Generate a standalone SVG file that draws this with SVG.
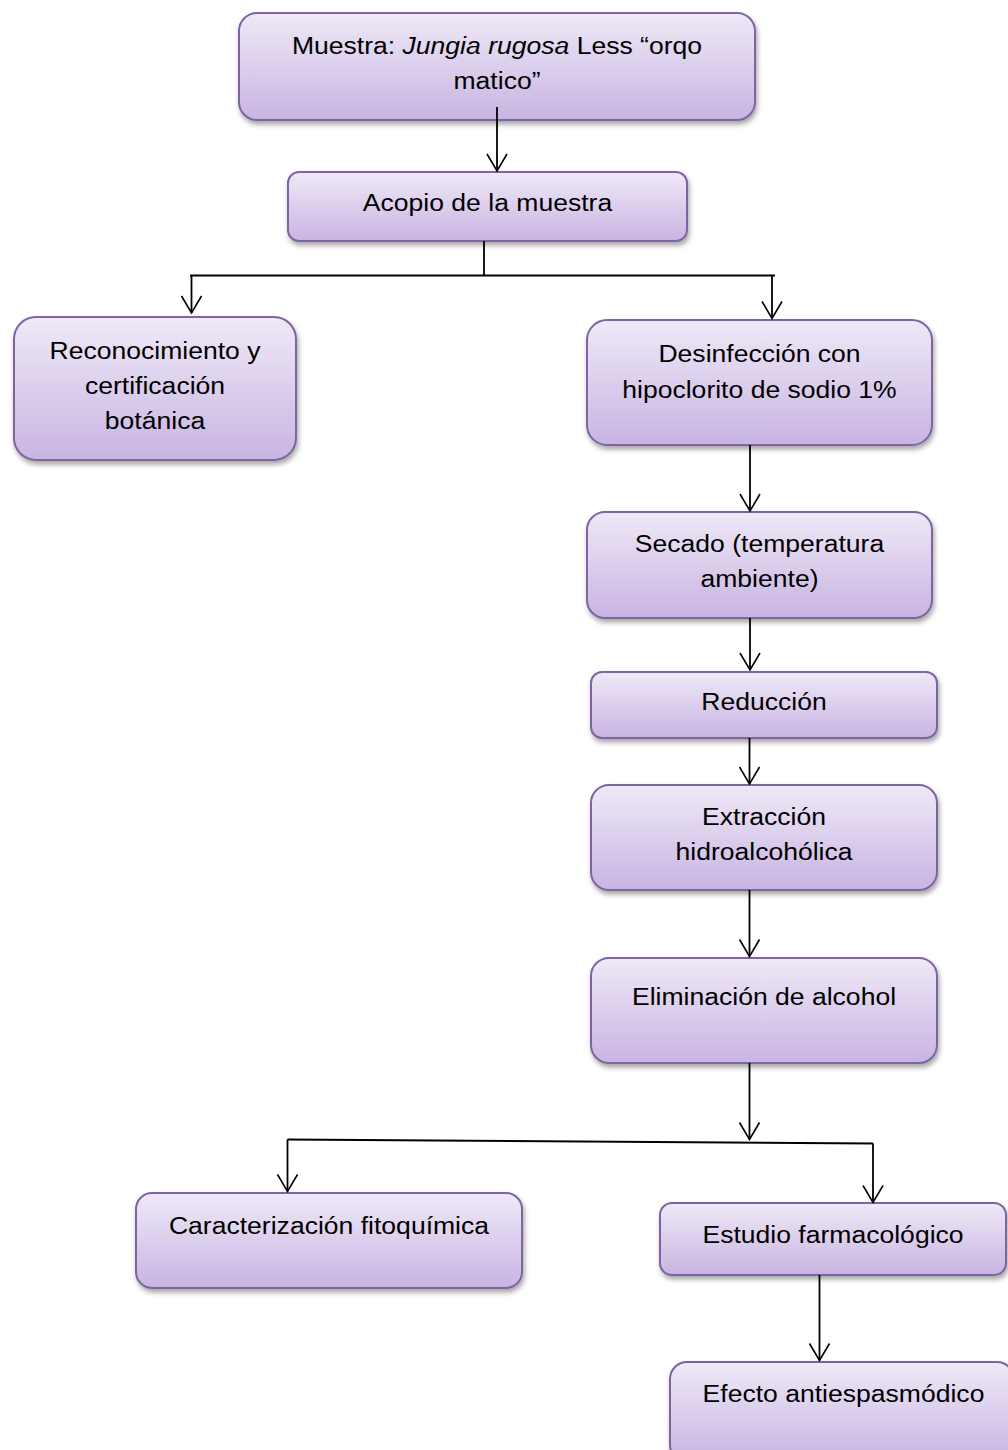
<svg xmlns="http://www.w3.org/2000/svg" width="1008" height="1450" viewBox="0 0 1008 1450">
<defs>
<linearGradient id="g" x1="0" y1="0" x2="0" y2="1">
<stop offset="0" stop-color="#efe9f7"/>
<stop offset="1" stop-color="#c8b4e2"/>
</linearGradient>
<filter id="sh" x="-10%" y="-10%" width="120%" height="130%">
<feDropShadow dx="1.5" dy="3.5" stdDeviation="2.5" flood-color="#000" flood-opacity="0.35"/>
</filter>
<marker id="ah" markerUnits="userSpaceOnUse" markerWidth="24" markerHeight="24" viewBox="-20 -12 24 24" refX="0" refY="0" orient="auto">
<path d="M-17,-10 L0,0 L-17,10" fill="none" stroke="#000" stroke-width="1.6"/>
</marker>
<style>
.box{fill:url(#g);stroke:#8064a2;stroke-width:2;filter:url(#sh)}
.t{font-family:"Liberation Sans",Arial,sans-serif;font-size:23.5px;fill:#000;text-anchor:middle}
.c{fill:none;stroke:#000;stroke-width:1.8}
.a{marker-end:url(#ah)}
</style>
</defs>
<rect width="1008" height="1450" fill="#fff"/>

<g id="n1">
<rect class="box" x="239" y="13" width="516" height="107" rx="18"/>
<text class="t" transform="translate(497 0) scale(1.13 1)" x="0" y="54">Muestra: <tspan font-style="italic">Jungia rugosa</tspan> Less “orqo</text>
<text class="t" transform="translate(497 0) scale(1.13 1)" x="0" y="89">matico”</text>
</g>
<g id="n2">
<rect class="box" x="288" y="172" width="399" height="69" rx="11"/>
<text class="t" transform="translate(487.5 0) scale(1.13 1)" x="0" y="211">Acopio de la muestra</text>
</g>
<g id="n3">
<rect class="box" x="14" y="317" width="282" height="143" rx="22"/>
<text class="t" transform="translate(155 0) scale(1.13 1)" x="0" y="359">Reconocimiento y</text>
<text class="t" transform="translate(155 0) scale(1.13 1)" x="0" y="394">certificación</text>
<text class="t" transform="translate(155 0) scale(1.13 1)" x="0" y="429">botánica</text>
</g>
<g id="n4">
<rect class="box" x="587" y="320" width="345" height="125" rx="20"/>
<text class="t" transform="translate(759.5 0) scale(1.13 1)" x="0" y="362">Desinfección con</text>
<text class="t" transform="translate(759.5 0) scale(1.13 1)" x="0" y="398">hipoclorito de sodio 1%</text>
</g>
<g id="n5">
<rect class="box" x="587" y="512" width="345" height="106" rx="18"/>
<text class="t" transform="translate(759.5 0) scale(1.13 1)" x="0" y="552">Secado (temperatura</text>
<text class="t" transform="translate(759.5 0) scale(1.13 1)" x="0" y="587">ambiente)</text>
</g>
<g id="n6">
<rect class="box" x="591" y="672" width="346" height="66" rx="11"/>
<text class="t" transform="translate(764 0) scale(1.13 1)" x="0" y="710.5">Reducción</text>
</g>
<g id="n7">
<rect class="box" x="591" y="785" width="346" height="105" rx="18"/>
<text class="t" transform="translate(764 0) scale(1.13 1)" x="0" y="825.5">Extracción</text>
<text class="t" transform="translate(764 0) scale(1.13 1)" x="0" y="860.5">hidroalcohólica</text>
</g>
<g id="n8">
<rect class="box" x="591" y="958" width="346" height="105" rx="18"/>
<text class="t" transform="translate(764 0) scale(1.13 1)" x="0" y="1005">Eliminación de alcohol</text>
</g>
<g id="n9">
<rect class="box" x="136" y="1193" width="386" height="95" rx="16"/>
<text class="t" transform="translate(329 0) scale(1.13 1)" x="0" y="1234.5">Caracterización fitoquímica</text>
</g>
<g id="n10">
<rect class="box" x="660" y="1203" width="346" height="72" rx="12"/>
<text class="t" transform="translate(833 0) scale(1.13 1)" x="0" y="1243">Estudio farmacológico</text>
</g>
<g id="n11">
<rect class="box" x="670" y="1362" width="344" height="100" rx="17"/>
<text class="t" transform="translate(843.5 0) scale(1.13 1)" x="0" y="1402">Efecto antiespasmódico</text>
</g>

<g id="connectors">
<path class="c a" d="M497,107 L497,171"/>
<path class="c" d="M484,241 L484,275.5 M190,275.5 L775,275.5"/>
<path class="c a" d="M191.5,275.5 L191.5,313"/>
<path class="c a" d="M772,275.5 L772,318.5"/>
<path class="c a" d="M750,445 L750,511"/>
<path class="c a" d="M750,618 L750,670"/>
<path class="c a" d="M749.5,738 L749.5,784"/>
<path class="c a" d="M749.5,890 L749.5,956.5"/>
<path class="c a" d="M749.5,1063 L749.5,1139.5"/>
<path class="c" d="M287.5,1139.5 L873,1143.5"/>
<path class="c a" d="M287.5,1139.5 L287.5,1191.5"/>
<path class="c a" d="M873,1143.5 L873,1202.5"/>
<path class="c a" d="M819.5,1275 L819.5,1360.5"/>
</g>
</svg>
